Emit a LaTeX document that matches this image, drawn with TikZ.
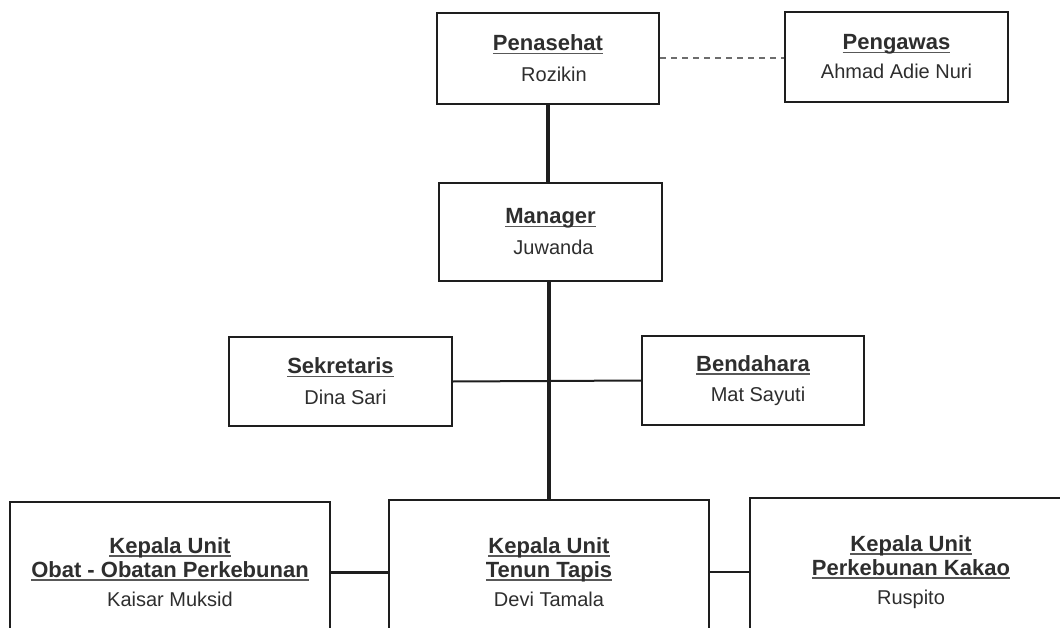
\documentclass[tikz,border=0pt]{standalone}
\usepackage{fontspec}
\setmainfont{Liberation Sans}
\usepackage{xcolor}
\usetikzlibrary{positioning}

\definecolor{garis}{HTML}{1E1E1E}
\definecolor{tulisan}{HTML}{2E2E2E}
\newsavebox{\judulbox}
\newcommand{\judul}[1]{{\fontsize{22}{24}\selectfont\bfseries%
  \sbox{\judulbox}{#1}\rlap{\color{tulisan!80}\rule[-3.2pt]{\wd\judulbox}{1.4pt}}\usebox{\judulbox}}}

\begin{document}
\begin{tikzpicture}[x=1pt,y=-1pt,
  kotak/.style={draw=garis, line width=2.2pt, fill=white, text=tulisan, align=center,
    inner sep=0pt, font=\fontsize{20}{24}\selectfont},
  batang/.style={draw=garis, line width=4.5pt},
  cabang/.style={draw=garis, line width=2pt}]

\useasboundingbox (0,0) rectangle (1060,628);
\clip (0,0) rectangle (1060,628);

% pimpinan
\node[kotak, minimum width=222pt, minimum height=91pt] (penasehat) at (548,58.5)
  {\judul{Penasehat}\\[7pt]\hspace*{12pt}Rozikin};
\node[kotak, minimum width=223pt, minimum height=90pt] (pengawas) at (896.5,57)
  {\judul{Pengawas}\\[5pt]Ahmad Adie Nuri};
\node[kotak, minimum width=223pt, minimum height=98pt] (manager) at (550.5,232)
  {\judul{Manager}\\[7pt]\hspace*{6pt}Juwanda};

% staf
\node[kotak, minimum width=223pt, minimum height=89pt] (sekretaris) at (340.5,381.5)
  {\judul{Sekretaris}\\[7pt]\hspace*{10pt}Dina Sari};
\node[kotak, minimum width=222pt, minimum height=89pt] (bendahara) at (753,380.5)
  {\judul{Bendahara}\\[6pt]\hspace*{10pt}Mat Sayuti};

% kepala unit
\node[kotak, minimum width=320pt, minimum height=140pt] (obat) at (170,572)
  {\judul{Kepala Unit}\\\judul{Obat - Obatan Perkebunan}\\[5pt]Kaisar Muksid};
\node[kotak, minimum width=320pt, minimum height=144pt] (tenun) at (549,572)
  {\judul{Kepala Unit}\\\judul{Tenun Tapis}\\[5pt]Devi Tamala};
\node[kotak, minimum width=322pt, minimum height=148pt] (kakao) at (911,572)
  {\judul{Kepala Unit}\\\judul{Perkebunan Kakao}\\[5pt]Ruspito};

% garis
\draw[draw=garis!65, line width=2pt, dash pattern=on 6pt off 5pt]
  (penasehat.east) -- (penasehat.east -| pengawas.west);
\draw[batang] (penasehat.south) -- (penasehat.south |- manager.north);
\draw[batang] (tenun.north) -- (tenun.north |- manager.south);
\draw[cabang] (sekretaris.east) -- (bendahara.west);
\draw[cabang, line width=3pt] (obat.east) -- (obat.east -| tenun.west);
\draw[cabang] (tenun.east) -- (tenun.east -| kakao.west);

\end{tikzpicture}
\end{document}
